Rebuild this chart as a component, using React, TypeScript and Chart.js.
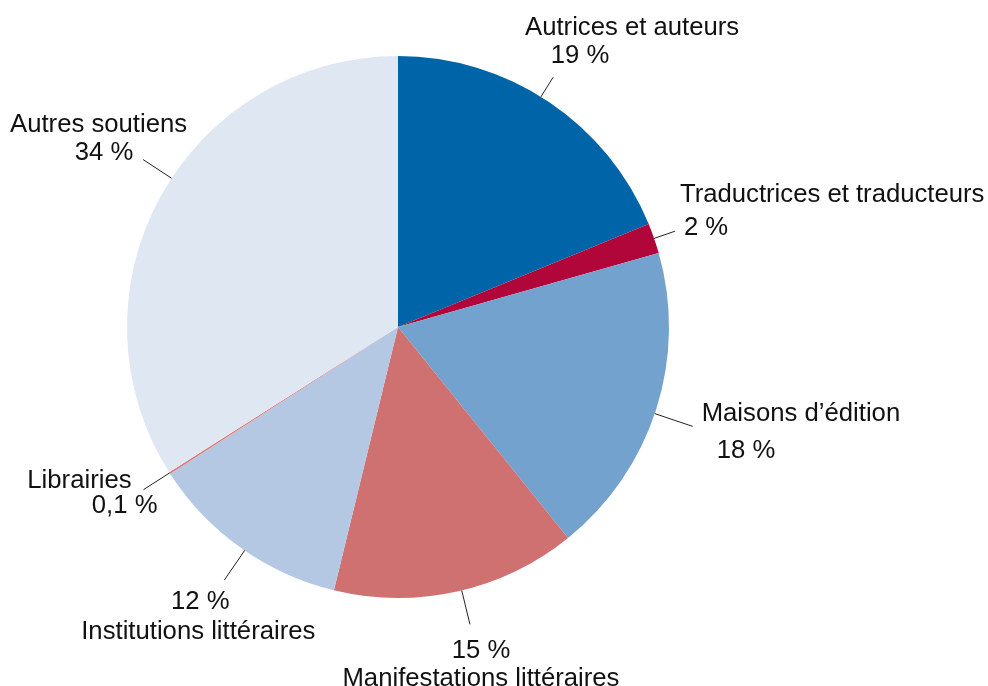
import React, { useEffect, useRef } from "react";
import { Chart, registerables } from "chart.js";

Chart.register(...registerables);

const categories = [
  "Autrices et auteurs",
  "Traductrices et traducteurs",
  "Maisons d’édition",
  "Manifestations littéraires",
  "Institutions littéraires",
  "Librairies",
  "Autres soutiens",
];
const values = [18.8, 1.8, 18.6, 14.6, 12.1, 0.1, 34.0];
const percentLabels = ["19 %", "2 %", "18 %", "15 %", "12 %", "0,1 %", "34 %"];
const colors = ["#0065A8", "#B1063A", "#73A2CE", "#CF7171", "#B4C8E3", "#E6736A", "#DFE7F2"];

// label layout relative to leader line end: [dx, dy, align] for name and percent
const layout = [
  { len: 23, tweak: -2, name: [79, -42, "center"], pct: [27, -14, "center"] },
  { len: 22, tweak: 0, name: [5, -29, "left"], pct: [9, 4, "left"] },
  { len: 40, tweak: 1, name: [9, -5, "left"], pct: [24, 32, "left"] },
  { len: 35, tweak: -1, name: [11, 62, "center"], pct: [11, 34, "center"] },
  { len: 36, tweak: -1, name: [-26, 59, "center"], pct: [-24, 29, "center"] },
  { len: 31, tweak: 0, name: [-12, -2, "right"], pct: [14, 23, "right"] },
  { len: 34, tweak: 4.5, name: [44, -28, "right"], pct: [-39, 0, "center"] },
];

const labelPlugin = {
  id: "leaderLabels",
  afterDatasetsDraw(chart: any) {
    const ctx = chart.ctx;
    const meta = chart.getDatasetMeta(0);
    ctx.save();
    ctx.font = "25.7px 'Liberation Sans', Arial, sans-serif";
    ctx.fillStyle = "#111";
    ctx.strokeStyle = "#222";
    ctx.lineWidth = 1;
    ctx.textBaseline = "alphabetic";
    meta.data.forEach((arc: any, i: number) => {
      const { x, y, startAngle, endAngle, outerRadius } = arc.getProps(
        ["x", "y", "startAngle", "endAngle", "outerRadius"],
        true
      );
      const L = layout[i];
      const mid = (startAngle + endAngle) / 2 + (L.tweak * Math.PI) / 180;
      const x1 = x + Math.cos(mid) * outerRadius;
      const y1 = y + Math.sin(mid) * outerRadius;
      const x2 = x + Math.cos(mid) * (outerRadius + L.len);
      const y2 = y + Math.sin(mid) * (outerRadius + L.len);
      ctx.beginPath();
      ctx.moveTo(x1, y1);
      ctx.lineTo(x2, y2);
      ctx.stroke();
      const n = L.name as any[];
      const p = L.pct as any[];
      ctx.textAlign = n[2];
      ctx.fillText(categories[i], x2 + n[0], y2 + n[1]);
      ctx.textAlign = p[2];
      ctx.fillText(percentLabels[i], x2 + p[0], y2 + p[1]);
    });
    ctx.restore();
  },
};

export default function App() {
  const ref = useRef<HTMLCanvasElement>(null);
  useEffect(() => {
    if (!ref.current) return;
    const chart = new Chart(ref.current, {
      type: "pie",
      data: {
        labels: categories,
        datasets: [
          {
            data: values,
            backgroundColor: colors,
            borderWidth: 0,
            hoverOffset: 0,
          },
        ],
      },
      options: {
        responsive: false,
        animation: false,
        layout: { padding: { left: 127, right: 319, top: 56, bottom: 88 } },
        plugins: { legend: { display: false }, tooltip: { enabled: false } },
      },
      plugins: [labelPlugin],
    });
    return () => chart.destroy();
  }, []);
  return (
    <div style={{ position: "absolute", left: 0, top: 0, width: 988, height: 686, background: "#fff" }}>
      <canvas ref={ref} width={988} height={686} />
    </div>
  );
}
